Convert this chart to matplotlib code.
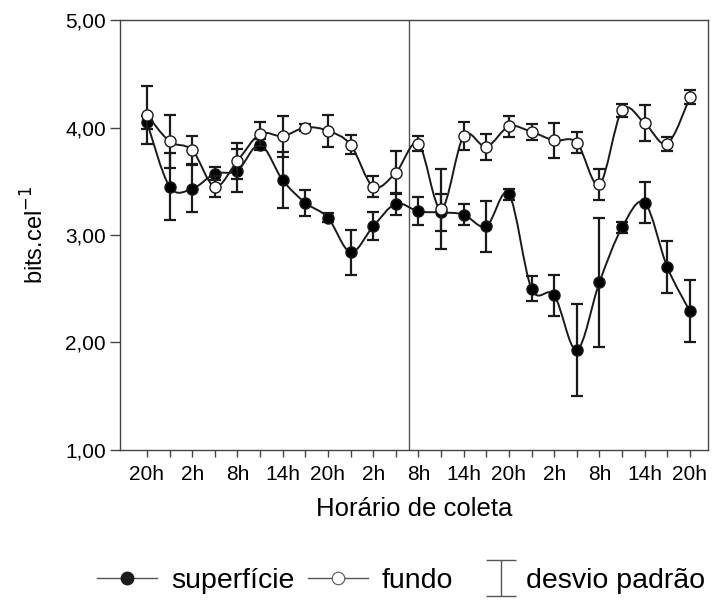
import numpy as np
import matplotlib
matplotlib.use("Agg")
import matplotlib.pyplot as plt
from matplotlib.path import Path
from matplotlib.patches import PathPatch
from matplotlib.lines import Line2D
from matplotlib.container import ErrorbarContainer
from matplotlib.legend_handler import HandlerErrorbar

plt.rcParams['font.family'] = ['Liberation Sans', 'DejaVu Sans']

# horarios de coleta (a cada 3h), rotulos a cada 6h
tick_labels = ['20h', '2h', '8h', '14h', '20h', '2h', '8h', '14h', '20h', '2h', '8h', '14h', '20h']

superficie = [4.05, 3.45, 3.43, 3.57, 3.60, 3.84, 3.51, 3.30, 3.16, 2.84, 3.08, 3.29, 3.22,
              3.21, 3.19, 3.08, 3.38, 2.50, 2.44, 1.93, 2.56, 3.07, 3.30, 2.70, 2.29]
superficie_dp = [0.06, 0.31, 0.22, 0.06, 0.20, 0.05, 0.26, 0.12, 0.04, 0.21, 0.13, 0.10, 0.13,
                 0.17, 0.10, 0.24, 0.05, 0.115, 0.19, 0.43, 0.60, 0.055, 0.19, 0.24, 0.29]
fundo = [4.12, 3.87, 3.79, 3.45, 3.69, 3.94, 3.92, 4.00, 3.97, 3.84, 3.45, 3.58, 3.85,
         3.24, 3.92, 3.82, 4.01, 3.96, 3.88, 3.86, 3.47, 4.16, 4.04, 3.85, 4.28]
fundo_dp = [0.27, 0.25, 0.13, 0.10, 0.17, 0.11, 0.19, 0.03, 0.15, 0.09, 0.10, 0.20, 0.07,
            0.37, 0.13, 0.12, 0.10, 0.075, 0.165, 0.10, 0.14, 0.06, 0.165, 0.065, 0.065]

divisao = 11.58  # linha vertical entre as duas campanhas


def smooth_path(x, y):
    # curva suave (catmull-rom em bezier) passando pelos pontos
    pts = np.column_stack([x, y]).astype(float)
    n = len(pts)
    verts = [pts[0]]
    codes = [Path.MOVETO]
    for i in range(n - 1):
        p0 = pts[i - 1] if i > 0 else pts[i]
        p1 = pts[i]
        p2 = pts[i + 1]
        p3 = pts[i + 2] if i + 2 < n else pts[i + 1]
        verts += [p1 + (p2 - p0) / 6, p2 - (p3 - p1) / 6, p2]
        codes += [Path.CURVE4] * 3
    return Path(verts, codes)


fig = plt.figure(figsize=(7.13, 6.08), dpi=100)
ax = fig.add_axes([0.168, 0.26, 0.825, 0.707])

x = np.arange(len(superficie))

for serie, dp, face, z in [(superficie, superficie_dp, 'black', 3), (fundo, fundo_dp, 'white', 4)]:
    ax.add_patch(PathPatch(smooth_path(x, serie), fill=False, ec='#1a1a1a', lw=1.4, zorder=z))
    ax.errorbar(x, serie, yerr=dp, fmt='none', ecolor='#1a1a1a', elinewidth=1.6,
                capsize=4.5, capthick=1.6, zorder=z)
    ax.plot(x, serie, 'o', ms=8, mfc=face, mec='#1a1a1a', mew=1.0, zorder=z + 0.5)

ax.axvline(divisao, color='#555555', lw=1.0, zorder=1)

ax.set_xlim(-1.2, 24.8)
ax.set_ylim(1, 5)
ax.set_xticks(x)
ax.set_xticklabels([tick_labels[i // 2] if i % 2 == 0 else '' for i in x], fontsize=15)
ax.set_yticks([1, 2, 3, 4, 5])
ax.set_yticklabels(['1,00', '2,00', '3,00', '4,00', '5,00'], fontsize=15)
ax.tick_params(axis='x', length=5, width=1, color='#444444', pad=6)
ax.tick_params(axis='y', length=7, width=1, color='#444444', pad=3)
for s in ax.spines.values():
    s.set_color('#444444')
    s.set_linewidth(1.0)

ax.set_xlabel('Horário de coleta', fontsize=18.5, labelpad=9)
ax.set_ylabel('bits.cel$^{-1}$', fontsize=17, labelpad=12)

h_sup = Line2D([], [], color='#555555', lw=1.0, marker='o', ms=9, mfc='#1a1a1a', mec='#1a1a1a')
h_fun = Line2D([], [], color='#555555', lw=1.0, marker='o', ms=9, mfc='white', mec='#555555', mew=0.8)
eb = ax.errorbar([np.nan], [np.nan], yerr=[1], fmt='none', ecolor='#555555',
                 elinewidth=1.0, capsize=11, capthick=1.0)

fig.legend([h_sup, h_fun], ['superfície', 'fundo'],
           loc='center left', bbox_to_anchor=(0.136, 0.045), ncol=2, frameon=False,
           fontsize=20.5, handlelength=2.1, handletextpad=0.5, columnspacing=0.47,
           borderpad=0, borderaxespad=0)
fig.legend([eb], ['desvio padrão'],
           loc='center right', bbox_to_anchor=(0.989, 0.045), frameon=False,
           fontsize=20.5, handlelength=1.1, handletextpad=0.32, borderpad=0, borderaxespad=0,
           handler_map={ErrorbarContainer: HandlerErrorbar(xerr_size=0.5, yerr_size=0.63)})

fig.savefig('out.png', dpi=100)
